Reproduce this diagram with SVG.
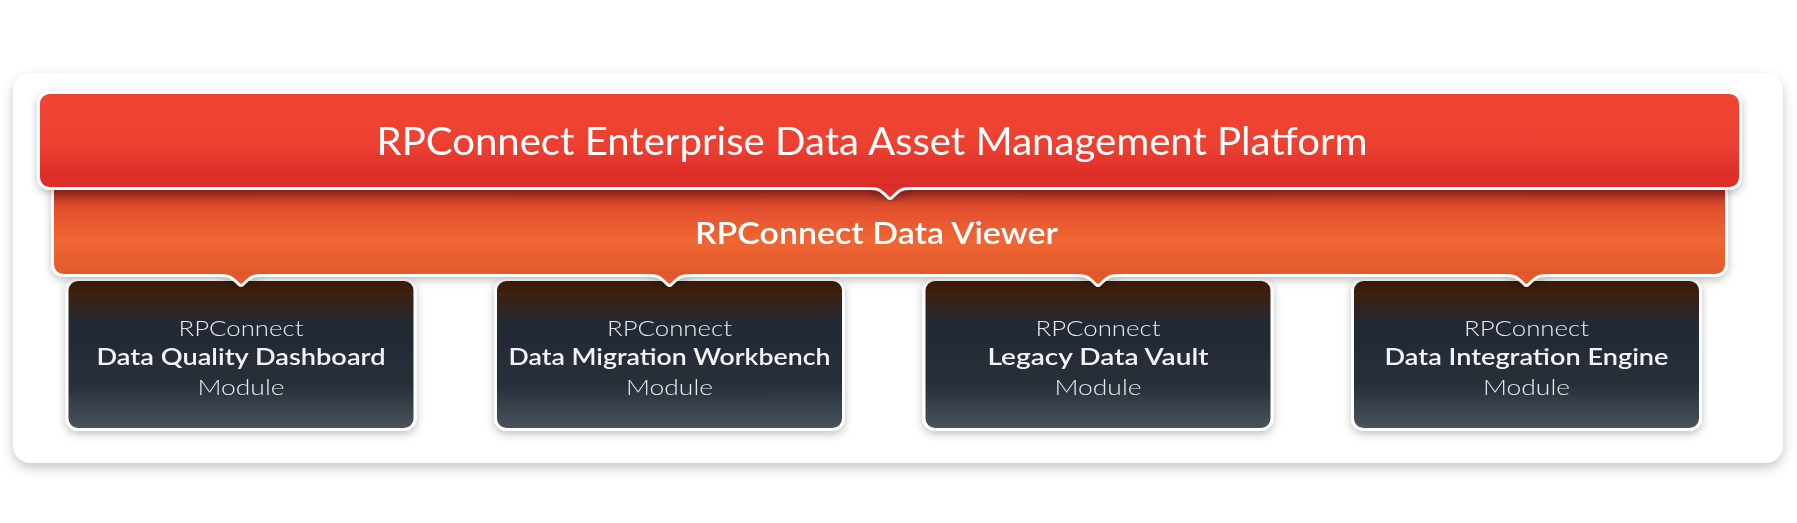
<svg xmlns="http://www.w3.org/2000/svg" width="1797" height="523" viewBox="0 0 1797 523">
  <defs>
    <filter id="shadowBig" x="-5%" y="-10%" width="110%" height="125%">
      <feDropShadow dx="0" dy="5" stdDeviation="6" flood-color="#000" flood-opacity="0.22"/>
    </filter>
    <filter id="shadowSm" x="-5%" y="-10%" width="110%" height="130%">
      <feDropShadow dx="0" dy="3" stdDeviation="4" flood-color="#000" flood-opacity="0.25"/>
    </filter>
    <linearGradient id="gRed" gradientUnits="userSpaceOnUse" x1="0" y1="92" x2="0" y2="189">
      <stop offset="0" stop-color="#EF4433"/>
      <stop offset="0.55" stop-color="#ED4132"/>
      <stop offset="0.8" stop-color="#E0302B"/>
      <stop offset="1" stop-color="#DD2D2A"/>
    </linearGradient>
    <linearGradient id="gOrange" gradientUnits="userSpaceOnUse" x1="0" y1="188" x2="0" y2="276">
      <stop offset="0" stop-color="#9B221E"/>
      <stop offset="0.22" stop-color="#E24F2E"/>
      <stop offset="0.6" stop-color="#F06634"/>
      <stop offset="1" stop-color="#E25A2C"/>
    </linearGradient>
    <linearGradient id="gModule" gradientUnits="userSpaceOnUse" x1="0" y1="279" x2="0" y2="430">
      <stop offset="0" stop-color="#3F1C06"/>
      <stop offset="0.08" stop-color="#3E1F0D"/>
      <stop offset="0.3" stop-color="#232A35"/>
      <stop offset="0.7" stop-color="#272F3A"/>
      <stop offset="1" stop-color="#4B555D"/>
    </linearGradient>
    <style>
      .frame { fill: #FFFFFF; }
      .bar { stroke: #FFFFFF; stroke-width: 3; }
      .mod { fill: url(#gModule); stroke: #FFFFFF; stroke-width: 3; }
      .t-title { font-family: "Lato", "Liberation Sans", sans-serif; font-size: 38px; fill: #FFFFFF; text-anchor: middle; }
      .t-viewer { font-family: "Lato", "Liberation Sans", sans-serif; font-size: 30px; font-weight: 600; fill: #FFFFFF; text-anchor: middle; }
      .t-light { font-family: "Lato", "Liberation Sans", sans-serif; font-size: 22px; font-weight: 300; fill: #E9EBED; text-anchor: middle; }
      .t-bold { font-family: "Lato", "Liberation Sans", sans-serif; font-size: 22px; font-weight: 600; fill: #F2F3F4; text-anchor: middle; }
      .notch-line { fill: none; stroke: #FFFFFF; stroke-width: 3; stroke-linejoin: round; }
    </style>
  </defs>

  <rect width="1797" height="523" fill="#FFFFFF"/>

  <g id="frame">
    <rect class="frame" x="13" y="73" width="1770" height="390" rx="18" filter="url(#shadowBig)"/>
  </g>

  <g id="module-quality" filter="url(#shadowSm)">
    <rect class="mod" x="67" y="279.5" width="348" height="150" rx="11"/>
    <text class="t-light" x="241" y="336" textLength="125" lengthAdjust="spacingAndGlyphs">RPConnect</text>
    <text class="t-bold" x="241" y="365" textLength="289" lengthAdjust="spacingAndGlyphs">Data Quality Dashboard</text>
    <text class="t-light" x="241" y="395" textLength="87" lengthAdjust="spacingAndGlyphs">Module</text>
  </g>
  <g id="module-migration" filter="url(#shadowSm)">
    <rect class="mod" x="495.5" y="279.5" width="348" height="150" rx="11"/>
    <text class="t-light" x="669.5" y="336" textLength="125" lengthAdjust="spacingAndGlyphs">RPConnect</text>
    <text class="t-bold" x="669.5" y="365" textLength="322" lengthAdjust="spacingAndGlyphs">Data Migration Workbench</text>
    <text class="t-light" x="669.5" y="395" textLength="87" lengthAdjust="spacingAndGlyphs">Module</text>
  </g>
  <g id="module-vault" filter="url(#shadowSm)">
    <rect class="mod" x="924" y="279.5" width="348" height="150" rx="11"/>
    <text class="t-light" x="1098" y="336" textLength="125" lengthAdjust="spacingAndGlyphs">RPConnect</text>
    <text class="t-bold" x="1098" y="365" textLength="221" lengthAdjust="spacingAndGlyphs">Legacy Data Vault</text>
    <text class="t-light" x="1098" y="395" textLength="87" lengthAdjust="spacingAndGlyphs">Module</text>
  </g>
  <g id="module-integration" filter="url(#shadowSm)">
    <rect class="mod" x="1352.5" y="279.5" width="348" height="150" rx="11"/>
    <text class="t-light" x="1526.5" y="336" textLength="125" lengthAdjust="spacingAndGlyphs">RPConnect</text>
    <text class="t-bold" x="1526.5" y="365" textLength="284" lengthAdjust="spacingAndGlyphs">Data Integration Engine</text>
    <text class="t-light" x="1526.5" y="395" textLength="87" lengthAdjust="spacingAndGlyphs">Module</text>
  </g>

  <g id="data-viewer" filter="url(#shadowSm)">
    <rect class="bar" x="52.5" y="165" width="1674" height="110.5" rx="11" fill="url(#gOrange)"/>
    <text class="t-viewer" x="876.5" y="244" textLength="363" lengthAdjust="spacingAndGlyphs">RPConnect Data Viewer</text>
  </g>

  <g id="platform" filter="url(#shadowSm)">
    <rect class="bar" x="38.5" y="92.5" width="1702" height="96" rx="11" fill="url(#gRed)"/>
    <text class="t-title" x="872" y="155" textLength="991" lengthAdjust="spacingAndGlyphs">RPConnect Enterprise Data Asset Management Platform</text>
  </g>

  <g id="connectors">
    <g filter="url(#shadowSm)">
      <path d="M870,186 L870,188.5 C878,188.5 880,189.5 888,197.5 Q890,199.5 892,197.5 C900,189.5 902,188.5 910,188.5 L910,186 Z" fill="#DD2D2A"/>
      <path class="notch-line" d="M870,188.5 C878,188.5 880,189.5 888,197.5 Q890,199.5 892,197.5 C900,189.5 902,188.5 910,188.5"/>
    </g>
    <g filter="url(#shadowSm)">
      <path d="M221,273 L221,275.5 C229,275.5 231,276.5 239,284.5 Q241,286.5 243,284.5 C251,276.5 253,275.5 261,275.5 L261,273 Z" fill="#E25A2C"/>
      <path class="notch-line" d="M221,275.5 C229,275.5 231,276.5 239,284.5 Q241,286.5 243,284.5 C251,276.5 253,275.5 261,275.5"/>
      <path d="M649.5,273 L649.5,275.5 C657.5,275.5 659.5,276.5 667.5,284.5 Q669.5,286.5 671.5,284.5 C679.5,276.5 681.5,275.5 689.5,275.5 L689.5,273 Z" fill="#E25A2C"/>
      <path class="notch-line" d="M649.5,275.5 C657.5,275.5 659.5,276.5 667.5,284.5 Q669.5,286.5 671.5,284.5 C679.5,276.5 681.5,275.5 689.5,275.5"/>
      <path d="M1078,273 L1078,275.5 C1086,275.5 1088,276.5 1096,284.5 Q1098,286.5 1100,284.5 C1108,276.5 1110,275.5 1118,275.5 L1118,273 Z" fill="#E25A2C"/>
      <path class="notch-line" d="M1078,275.5 C1086,275.5 1088,276.5 1096,284.5 Q1098,286.5 1100,284.5 C1108,276.5 1110,275.5 1118,275.5"/>
      <path d="M1506.5,273 L1506.5,275.5 C1514.5,275.5 1516.5,276.5 1524.5,284.5 Q1526.5,286.5 1528.5,284.5 C1536.5,276.5 1538.5,275.5 1546.5,275.5 L1546.5,273 Z" fill="#E25A2C"/>
      <path class="notch-line" d="M1506.5,275.5 C1514.5,275.5 1516.5,276.5 1524.5,284.5 Q1526.5,286.5 1528.5,284.5 C1536.5,276.5 1538.5,275.5 1546.5,275.5"/>
    </g>
  </g>
</svg>
